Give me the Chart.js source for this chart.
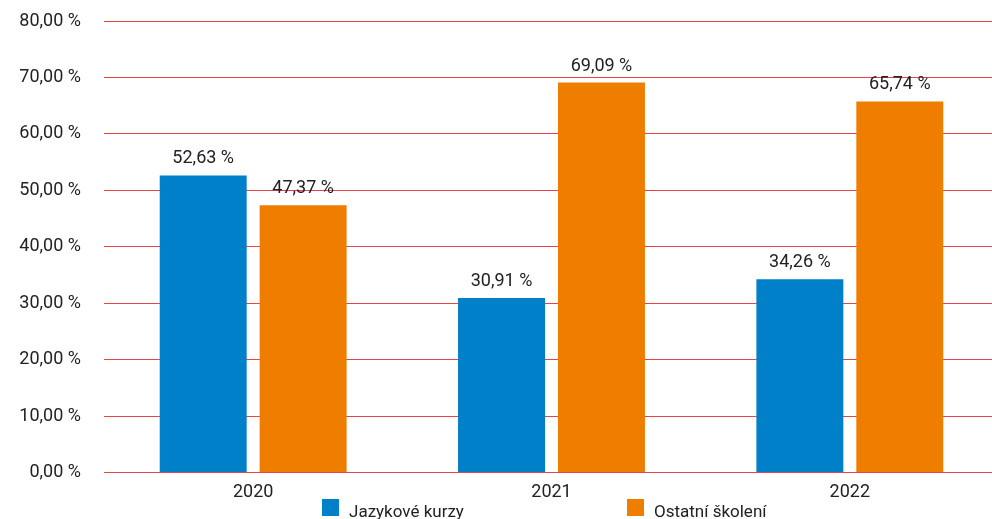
<!DOCTYPE html>
<html>
<head>
<meta charset="utf-8">
<script src="https://cdn.jsdelivr.net/npm/chart.js@4/dist/chart.umd.min.js"></script>
<style>
  html, body { margin: 0; padding: 0; background: #fff; }
  #wrap { width: 992px; height: 519px; position: relative; }
</style>
</head>
<body>
<div id="wrap"><canvas id="chart"></canvas></div>
<script>
const years = ["2020", "2021", "2022"];
const languageCourses = [52.63, 30.91, 34.26];
const otherTraining = [47.37, 69.09, 65.74];
const seriesNames = ["Jazykové kurzy", "Ostatní školení"];

const FONT = "Roboto, 'DejaVu Sans', sans-serif";
const TEXT = "#222222";

function formatPct(v) {
  return v.toFixed(2).replace(".", ",") + " %";
}

// plot box of the original: runs a bit past the right edge, 21..472 tall
const fitArea = {
  id: "fitArea",
  afterLayout(chart) {
    const area = chart.chartArea;
    area.top = 21;
    area.bottom = 472.5;
    area.height = area.bottom - area.top;

    const y = chart.scales.y;
    y.top = area.top;
    y.bottom = area.bottom;
    y.height = area.height;
    y.configure();

    const x = chart.scales.x;
    x.width = 895;
    x.right = x.left + x.width;
    x.top = area.bottom;
    x.bottom = x.top + x.height;
    x.configure();
  },
};

// values above bars
const valueLabels = {
  id: "valueLabels",
  afterDatasetsDraw(chart) {
    const ctx = chart.ctx;
    ctx.save();
    ctx.font = "18px " + FONT;
    ctx.fillStyle = TEXT;
    ctx.textAlign = "center";
    ctx.textBaseline = "alphabetic";
    chart.data.datasets.forEach((ds, i) => {
      chart.getDatasetMeta(i).data.forEach((bar, j) => {
        ctx.fillText(formatPct(ds.data[j]), bar.x, bar.y - 12);
      });
    });
    ctx.restore();
  },
};

// legend drawn under the axis, items spread apart
const bottomLegend = {
  id: "bottomLegend",
  afterDraw(chart) {
    const ctx = chart.ctx;
    const mid = chart.width / 2;
    const starts = [mid - 174, mid + 131];
    ctx.save();
    ctx.font = "17px " + FONT;
    ctx.textBaseline = "alphabetic";
    ctx.textAlign = "left";
    chart.data.datasets.forEach((ds, i) => {
      const x = starts[i];
      ctx.fillStyle = ds.backgroundColor;
      ctx.fillRect(x, 499, 17, 17);
      ctx.fillStyle = TEXT;
      ctx.fillText(ds.label, x + 27, 517);
    });
    ctx.restore();
  },
};

new Chart(document.getElementById("chart"), {
  type: "bar",
  data: {
    labels: years,
    datasets: [
      {
        label: seriesNames[0],
        data: languageCourses,
        backgroundColor: "#0080c9",
      },
      {
        label: seriesNames[1],
        data: otherTraining,
        backgroundColor: "#ef7d00",
      },
    ],
  },
  options: {
    responsive: true,
    maintainAspectRatio: false,
    animation: false,
    categoryPercentage: 0.67,
    barPercentage: 0.87,
    layout: { padding: { top: 3, right: 0, bottom: 7, left: 0 } },
    scales: {
      y: {
        min: 0,
        max: 80,
        ticks: {
          stepSize: 10,
          padding: 23,
          color: TEXT,
          font: { family: FONT, size: 18 },
          callback: (v) => formatPct(v),
        },
        grid: { color: "#e8424a", drawTicks: false },
        border: { display: false },
        afterFit: (scale) => {
          scale.width = 104;
        },
      },
      x: {
        ticks: {
          color: TEXT,
          padding: 9,
          font: { family: FONT, size: 18 },
        },
        grid: { display: false, drawTicks: false },
        border: { display: false },
      },
    },
    plugins: {
      legend: { display: false },
      tooltip: { enabled: false },
    },
  },
  plugins: [fitArea, valueLabels, bottomLegend],
});
</script>
</body>
</html>
